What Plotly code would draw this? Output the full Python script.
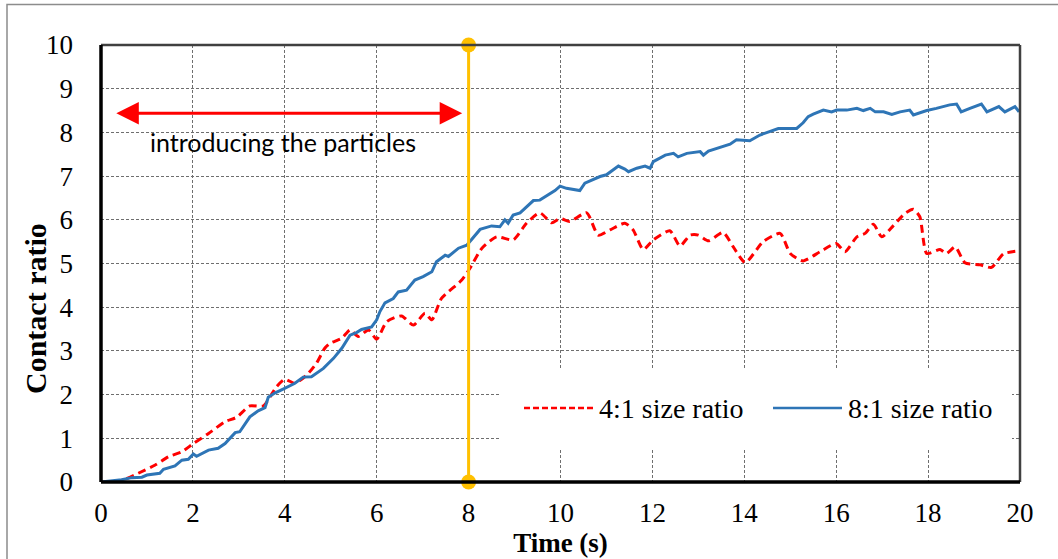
import plotly.graph_objects as go

# ---- data ----
t_41 = [0, 0.3, 0.49, 0.81, 1.18, 1.47, 1.76, 2.01, 2.34, 2.70, 2.95, 3.24, 3.53, 3.82, 4.0, 4.22,
        4.48, 4.69, 4.87, 4.98, 5.24, 5.42, 5.6, 5.82, 6.0, 6.22, 6.54, 6.8, 7.05, 7.2, 7.41, 7.85,
        8.03, 8.29, 8.61, 8.97, 9.26, 9.55, 9.81, 9.99, 10.2, 10.57, 10.82, 11.08, 11.4, 11.58, 11.8,
        12.02, 12.38, 12.6, 12.82, 13.0, 13.22, 13.54, 13.76, 14.02, 14.41, 14.78, 15.0, 15.28, 15.65,
        16.0, 16.19, 16.45, 16.63, 16.81, 16.99, 17.24, 17.5, 17.68, 17.82, 17.97, 18.26, 18.4, 18.59,
        18.8, 19.13, 19.38, 19.64, 19.98]
v_41 = [0, 0, 0.05, 0.2, 0.39, 0.58, 0.69, 0.88, 1.11, 1.38, 1.48, 1.74, 1.74, 2.18, 2.35, 2.26,
        2.45, 2.72, 3.06, 3.17, 3.29, 3.48, 3.33, 3.48, 3.27, 3.67, 3.80, 3.59, 3.86, 3.71, 4.20, 4.62,
        4.89, 5.35, 5.61, 5.54, 5.92, 6.16, 5.93, 6.03, 5.96, 6.16, 5.65, 5.77, 5.92, 5.77, 5.32,
        5.54, 5.75, 5.40, 5.65, 5.65, 5.52, 5.71, 5.38, 5.02, 5.50, 5.69, 5.23, 5.06, 5.27,
        5.46, 5.27, 5.61, 5.69, 5.90, 5.61, 5.86, 6.15, 6.24, 6.07, 5.23, 5.32, 5.23, 5.38,
        5.02, 4.97, 4.91, 5.22, 5.29]

t_81 = [0, 0.45, 0.67, 0.89, 1.0, 1.28, 1.36, 1.61, 1.76, 1.9, 2.01, 2.08, 2.34, 2.55, 2.70, 2.92,
        3.02, 3.1, 3.24, 3.42, 3.57, 3.64, 3.79, 3.93, 4.08, 4.22, 4.4, 4.58, 4.84, 5.06, 5.24, 5.42,
        5.56, 5.67, 5.89, 6.0, 6.07, 6.18, 6.36, 6.47, 6.65, 6.83, 7.01, 7.2, 7.3, 7.49, 7.56, 7.78,
        7.96, 8.25, 8.5, 8.68, 8.79, 8.86, 8.97, 9.12, 9.41, 9.55, 9.88, 9.99, 10.13, 10.42, 10.53,
        10.86, 11.0, 11.26, 11.4, 11.48, 11.66, 11.84, 11.95, 12.02, 12.28, 12.46, 12.56, 12.75,
        13.04, 13.11, 13.22, 13.51, 13.69, 13.83, 14.12, 14.34, 14.63, 14.74, 15.14, 15.28, 15.39,
        15.5, 15.72, 15.9, 16.01, 16.23, 16.45, 16.59, 16.74, 16.85, 17.03, 17.21, 17.39, 17.6,
        17.68, 17.97, 18.18, 18.47, 18.62, 18.72, 18.91, 19.16, 19.28, 19.54, 19.67, 19.89, 19.98]
v_81 = [0, 0.05, 0.1, 0.11, 0.16, 0.2, 0.29, 0.37, 0.50, 0.52, 0.64, 0.59, 0.73, 0.77, 0.88, 1.13,
        1.15, 1.27, 1.49, 1.63, 1.70, 1.94, 2.04, 2.11, 2.18, 2.26, 2.40, 2.41, 2.60, 2.83, 3.06, 3.36,
        3.42, 3.49, 3.55, 3.71, 3.90, 4.10, 4.20, 4.35, 4.39, 4.62, 4.70, 4.81, 5.04, 5.19, 5.16, 5.35,
        5.42, 5.78, 5.86, 5.84, 6.0, 5.92, 6.11, 6.16, 6.44, 6.45, 6.67, 6.77, 6.72, 6.67, 6.84,
        6.99, 7.03, 7.23, 7.16, 7.10, 7.18, 7.23, 7.18, 7.33, 7.48, 7.52, 7.44, 7.52,
        7.56, 7.48, 7.57, 7.66, 7.73, 7.83, 7.81, 7.94, 8.05, 8.09, 8.09, 8.22, 8.36,
        8.42, 8.51, 8.47, 8.51, 8.51, 8.55, 8.50, 8.55, 8.47, 8.47, 8.41, 8.47, 8.51,
        8.40, 8.50, 8.55, 8.63, 8.65, 8.47, 8.55, 8.65, 8.47, 8.59, 8.47, 8.59, 8.47]

series_names = ["4:1 size ratio", "8:1 size ratio"]
x_ticks = [0, 2, 4, 6, 8, 10, 12, 14, 16, 18, 20]
y_ticks = [0, 1, 2, 3, 4, 5, 6, 7, 8, 9, 10]
marker_t = 8
marker_y = [0, 10]
arrow_span = [0.3, 7.86]
arrow_level = 8.44
annot_text = "introducing the particles"
annot_pos = (3.97, 7.78)
x_title = "Time (s)"
y_title = "Contact ratio"

RED = "#FF0000"
BLUE = "#2E75B6"
ORANGE = "#FFC000"
SERIF = "Liberation Serif, Times New Roman, serif"

# plot-area geometry in page pixels
W, H = 1058, 559
PL, PR, PT, PB = 101, 1020, 45, 482
PW, PH = PR - PL, PB - PT


def px(x):
    return (x - PL) / PW


def py(y):
    return (PB - y) / PH


fig = go.Figure()

fig.add_trace(go.Scatter(x=t_41, y=v_41, mode="lines", name=series_names[0], showlegend=False,
                         line=dict(color=RED, width=3, dash="8px,5px", shape="spline", smoothing=0.6)))
fig.add_trace(go.Scatter(x=t_81, y=v_81, mode="lines", name=series_names[1], showlegend=False,
                         line=dict(color=BLUE, width=3)))
fig.add_trace(go.Scatter(x=[marker_t, marker_t], y=marker_y, mode="lines+markers", showlegend=False,
                         line=dict(color=ORANGE, width=3), marker=dict(color=ORANGE, size=15),
                         cliponaxis=False))

# arrow
fig.add_annotation(x=arrow_span[1], y=arrow_level, ax=arrow_span[0], ay=arrow_level,
                   xref="x", yref="y", axref="x", ayref="y", text="", showarrow=True,
                   arrowhead=2, startarrowhead=2, arrowside="end+start", arrowsize=1.5,
                   startarrowsize=1.5, arrowwidth=3, arrowcolor=RED, standoff=0, startstandoff=0)
fig.add_annotation(x=annot_pos[0], y=annot_pos[1], xref="x", yref="y", text=annot_text,
                   showarrow=False, font=dict(family="Lato, Carlito, sans-serif", size=25, color="#000"))

# y-axis title
fig.add_annotation(x=px(35), y=py(309), xref="paper", yref="paper", text="<b>" + y_title + "</b>",
                   textangle=-90, showarrow=False, xanchor="center", yanchor="middle",
                   font=dict(family=SERIF, size=30, color="#000"))

# manual legend
shapes = []
shapes.append(dict(type="rect", xref="paper", yref="paper", x0=px(500), x1=px(1012), y0=py(450), y1=py(370),
                   fillcolor="white", line=dict(width=0), layer="above"))
leg_y = py(408)
shapes.append(dict(type="line", xref="paper", yref="paper", x0=px(524), x1=px(594),
                   y0=leg_y, y1=leg_y, line=dict(color=RED, width=2.5, dash="6px,3px"), layer="above"))
shapes.append(dict(type="line", xref="paper", yref="paper", x0=px(773), x1=px(842),
                   y0=leg_y, y1=leg_y, line=dict(color=BLUE, width=2.5), layer="above"))
fig.add_annotation(x=px(597), y=leg_y, xref="paper", yref="paper", text=series_names[0],
                   xanchor="left", yanchor="middle", showarrow=False,
                   font=dict(family=SERIF, size=28, color="#000"))
fig.add_annotation(x=px(846), y=leg_y, xref="paper", yref="paper", text=series_names[1],
                   xanchor="left", yanchor="middle", showarrow=False,
                   font=dict(family=SERIF, size=28, color="#000"))

# frame: top/right gray, left/bottom black
shapes.append(dict(type="line", xref="paper", yref="paper", x0=0, x1=1, y0=1, y1=1,
                   line=dict(color="#404040", width=2.5), layer="above"))
shapes.append(dict(type="line", xref="paper", yref="paper", x0=1, x1=1, y0=0, y1=1,
                   line=dict(color="#404040", width=2.5), layer="above"))
shapes.append(dict(type="line", xref="paper", yref="paper", x0=0, x1=0, y0=0, y1=1,
                   line=dict(color="#000", width=3.5), layer="above"))
shapes.append(dict(type="line", xref="paper", yref="paper", x0=0, x1=1, y0=0, y1=0,
                   line=dict(color="#000", width=3.5), layer="above"))
# outer chart border (extends past right/bottom edges as in the reference crop)
shapes.append(dict(type="rect", xref="paper", yref="paper", x0=px(7), x1=px(1075),
                   y0=py(580), y1=py(4.5), line=dict(color="#8c8c8c", width=1.5), layer="below"))

fig.update_layout(
    width=W, height=H,
    margin=dict(l=PL, r=W - PR, t=PT, b=H - PB),
    paper_bgcolor="white", plot_bgcolor="white",
    shapes=shapes,
    font=dict(family=SERIF, color="#000"),
)
grid = dict(showgrid=True, gridcolor="#6e6e6e", gridwidth=1, griddash="3px,2px", zeroline=False,
            showline=False, ticks="", tickfont=dict(family=SERIF, size=27, color="#000"))
fig.update_xaxes(range=[0, 20], tickvals=x_ticks, ticktext=[str(v) for v in x_ticks],
                 ticklabelstandoff=12,
                 title=dict(text="<b>" + x_title + "</b>", font=dict(family=SERIF, size=27), standoff=0), **grid)
fig.update_yaxes(range=[0, 10], tickvals=y_ticks, ticktext=[str(v) for v in y_ticks],
                 ticklabelstandoff=27, **grid)

fig.write_html("out.html", config={"displayModeBar": False},
               post_script="document.body.style.margin='0px';")
